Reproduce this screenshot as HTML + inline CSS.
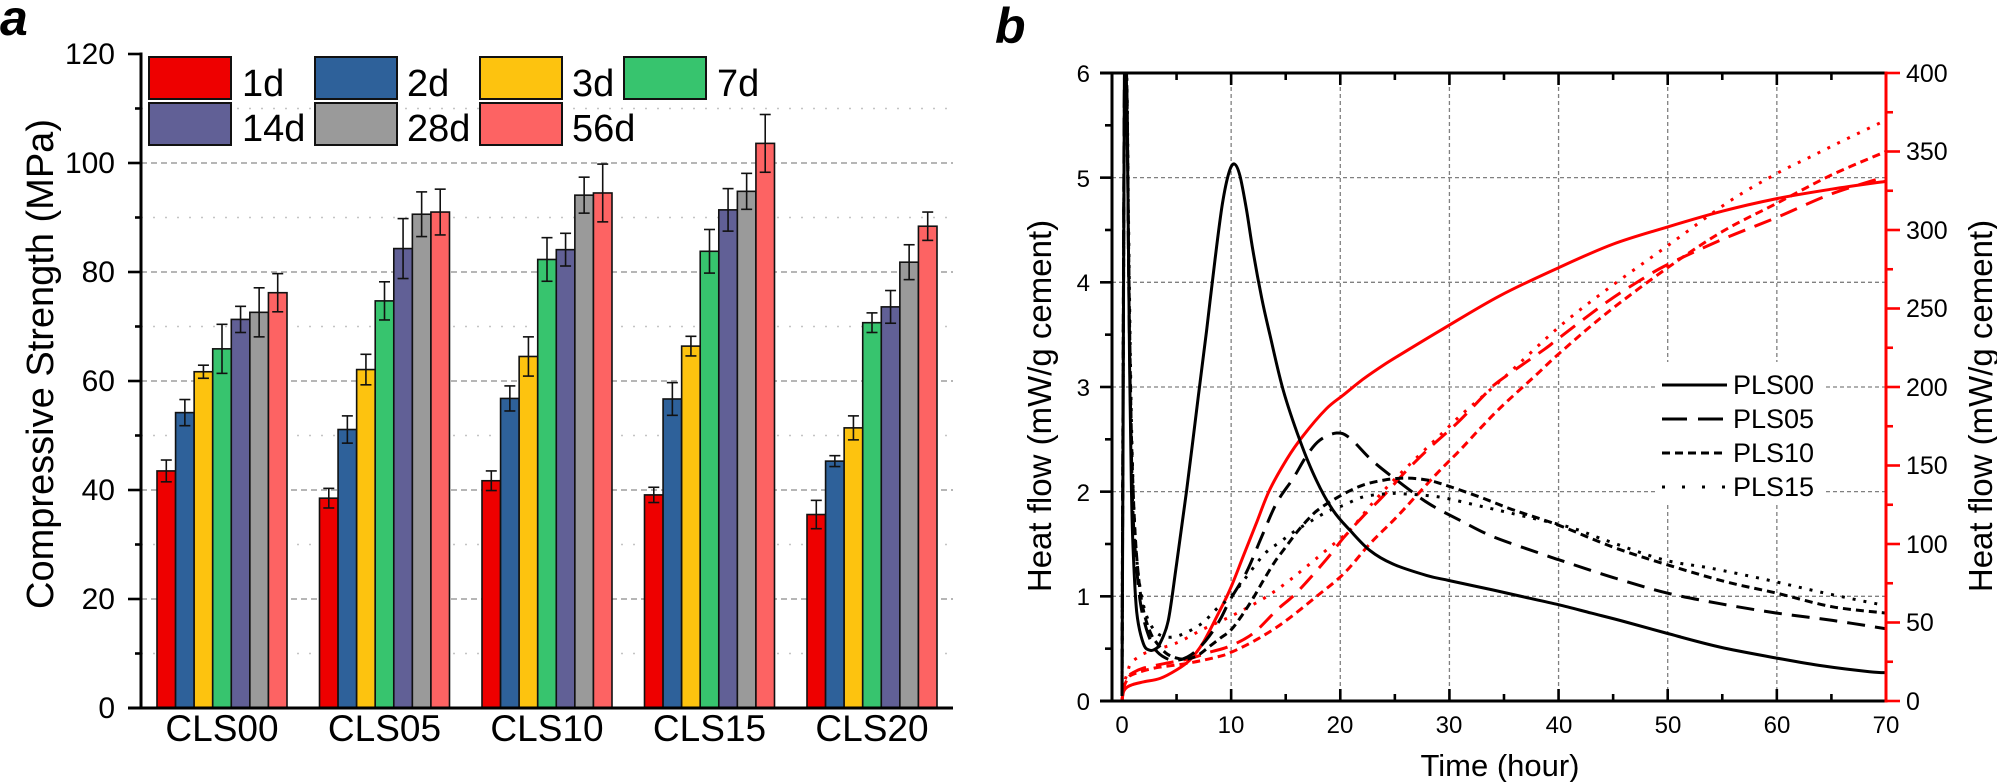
<!DOCTYPE html>
<html><head><meta charset="utf-8">
<style>
html,body{margin:0;padding:0;background:#fff;}
svg{display:block;}
text{font-family:"Liberation Sans",Arial,sans-serif;fill:#000;}
</style></head>
<body>
<svg id="s" width="1997" height="782" viewBox="0 0 1997 782" xmlns="http://www.w3.org/2000/svg">
<defs>
<clipPath id="pc"><rect x="1113" y="72" width="773" height="629"/></clipPath>
</defs>
<rect width="1997" height="782" fill="#fff"/>
<g id="lgrid"></g>
<g id="bars"></g>
<g id="laxes"></g>
<g id="lleg"></g>

<!-- Left chart text -->
<text x="0" y="35" font-size="50" font-weight="bold" font-style="italic">a</text>
<g font-size="30" text-anchor="end">
<text x="115" y="718">0</text>
<text x="115" y="609">20</text>
<text x="115" y="500">40</text>
<text x="115" y="391">60</text>
<text x="115" y="282">80</text>
<text x="115" y="173">100</text>
<text x="115" y="64">120</text>
</g>
<g font-size="37" text-anchor="middle">
<text x="222" y="741">CLS00</text>
<text x="384.5" y="741">CLS05</text>
<text x="547" y="741">CLS10</text>
<text x="709.5" y="741">CLS15</text>
<text x="872" y="741">CLS20</text>
</g>
<text transform="translate(53,364) rotate(-90)" font-size="38" text-anchor="middle">Compressive Strength (MPa)</text>
<g font-size="38">
<text x="242" y="96">1d</text>
<text x="407" y="96">2d</text>
<text x="572" y="96">3d</text>
<text x="717" y="96">7d</text>
<text x="242" y="141">14d</text>
<text x="407" y="141">28d</text>
<text x="572" y="141">56d</text>
</g>

<!-- Right chart -->
<g id="rgrid"></g>
<rect x="1658" y="362" width="165" height="143" fill="#fff"/>
<g id="curves" clip-path="url(#pc)"></g>
<g id="raxes"></g>
<g id="rleg"></g>

<text x="995" y="43" font-size="50" font-weight="bold" font-style="italic">b</text>
<g font-size="24" text-anchor="end">
<text x="1090" y="710">0</text>
<text x="1090" y="605">1</text>
<text x="1090" y="501">2</text>
<text x="1090" y="396">3</text>
<text x="1090" y="291">4</text>
<text x="1090" y="187">5</text>
<text x="1090" y="82">6</text>
</g>
<g font-size="24" text-anchor="middle">
<text x="1122" y="733">0</text>
<text x="1231" y="733">10</text>
<text x="1340" y="733">20</text>
<text x="1449" y="733">30</text>
<text x="1559" y="733">40</text>
<text x="1668" y="733">50</text>
<text x="1777" y="733">60</text>
<text x="1886" y="733">70</text>
</g>
<g font-size="25" text-anchor="start" style="fill:#ff0000">
<text x="1906" y="710" fill="#ff0000">0</text>
<text x="1906" y="631" fill="#ff0000">50</text>
<text x="1906" y="553" fill="#ff0000">100</text>
<text x="1906" y="474" fill="#ff0000">150</text>
<text x="1906" y="396" fill="#ff0000">200</text>
<text x="1906" y="317" fill="#ff0000">250</text>
<text x="1906" y="239" fill="#ff0000">300</text>
<text x="1906" y="160" fill="#ff0000">350</text>
<text x="1906" y="82" fill="#ff0000">400</text>
</g>
<text transform="translate(1051,406) rotate(-90)" font-size="33" text-anchor="middle">Heat flow (mW/g cement)</text>
<text transform="translate(1992,406) rotate(-90)" font-size="33" text-anchor="middle">Heat flow (mW/g cement)</text>
<text x="1500" y="776" font-size="31" text-anchor="middle">Time (hour)</text>
<g font-size="27">
<text x="1733" y="394">PLS00</text>
<text x="1733" y="428">PLS05</text>
<text x="1733" y="462">PLS10</text>
<text x="1733" y="496">PLS15</text>
</g>
</svg>
<script>
(function(){
const NS="http://www.w3.org/2000/svg";
function el(tag,attrs,parent){const e=document.createElementNS(NS,tag);for(const k in attrs)e.setAttribute(k,attrs[k]);parent.appendChild(e);return e;}
const $=id=>document.getElementById(id);

/* ---------- LEFT CHART ---------- */
const Y=v=>708-5.45*v;
const lg=$("lgrid");
for(let v=10;v<=110;v+=10){
  const y=Y(v);
  if(v%20===0) el("line",{x1:141,x2:953,y1:y,y2:y,stroke:"#8a8a8a","stroke-width":1.3,"stroke-dasharray":"6 4"},lg);
  else el("line",{x1:141,x2:953,y1:y,y2:y,stroke:"#c4c4c4","stroke-width":1.5,"stroke-dasharray":"2 10"},lg);
}
const colors=["#ee0000","#2e619a","#fdc30f","#37c46e","#616096","#9a9a9a","#fd6363"];
const data=[
 [[43.5,54.2,61.7,65.9,71.3,72.6,76.2],[2.0,2.4,1.2,4.5,2.4,4.5,3.5]],
 [[38.5,51.1,62.1,74.7,84.3,90.6,91.0],[1.8,2.5,2.8,3.5,5.5,4.1,4.2]],
 [[41.7,56.8,64.5,82.3,84.1,94.1,94.5],[1.8,2.3,3.6,4.0,3.0,3.3,5.3]],
 [[39.1,56.7,66.4,83.8,91.4,94.8,103.6],[1.4,3.0,1.8,4.0,3.9,3.3,5.3]],
 [[35.5,45.3,51.4,70.7,73.6,81.8,88.4],[2.6,1.0,2.2,1.8,3.0,3.2,2.6]]
];
const gl=[157,319.5,482,644.5,807], bw=130/7;
const bg=$("bars");
data.forEach((g,gi)=>{
  g[0].forEach((v,i)=>{
    const x=gl[gi]+i*bw, y=Y(v);
    el("rect",{x:x,y:y,width:bw,height:708-y,fill:colors[i],stroke:"#111","stroke-width":1.6},bg);
  });
  g[0].forEach((v,i)=>{
    const cx=gl[gi]+i*bw+bw/2, e=g[1][i];
    const y1=Y(v+e), y2=Y(v-e);
    el("line",{x1:cx,x2:cx,y1:y1,y2:y2,stroke:"#111","stroke-width":1.6},bg);
    el("line",{x1:cx-5.5,x2:cx+5.5,y1:y1,y2:y1,stroke:"#111","stroke-width":1.6},bg);
    el("line",{x1:cx-5.5,x2:cx+5.5,y1:y2,y2:y2,stroke:"#111","stroke-width":1.6},bg);
  });
});
const la=$("laxes");
el("line",{x1:141,x2:141,y1:52.5,y2:709.5,stroke:"#000","stroke-width":3},la);
el("line",{x1:128,x2:953,y1:708,y2:708,stroke:"#000","stroke-width":3},la);
for(let v=0;v<=120;v+=10){
  const y=Y(v);
  el("line",{x1:(v%20===0?128:135),x2:141,y1:y,y2:y,stroke:"#000","stroke-width":2.6},la);
}
const ll=$("lleg");
const lx=[149,315,480,624];
[[0,0],[1,1],[2,2],[3,3]].forEach(([c,k])=>el("rect",{x:lx[c],y:57,width:82,height:42,fill:colors[k],stroke:"#111","stroke-width":2},ll));
[[0,4],[1,5],[2,6]].forEach(([c,k])=>el("rect",{x:lx[c],y:103,width:82,height:42,fill:colors[k],stroke:"#111","stroke-width":2},ll));

/* ---------- RIGHT CHART ---------- */
const X=t=>1122+10.914*t, V=v=>701-104.67*v, R=r=>701-1.57*r;
const rg=$("rgrid");
for(let t=10;t<=60;t+=10){
  const x=X(t);
  if(t>=50){
    el("line",{x1:x,x2:x,y1:73,y2:362,stroke:"#808080","stroke-width":1.3,"stroke-dasharray":"4 3"},rg);
    el("line",{x1:x,x2:x,y1:505,y2:701,stroke:"#808080","stroke-width":1.3,"stroke-dasharray":"4 3"},rg);
  } else el("line",{x1:x,x2:x,y1:73,y2:701,stroke:"#808080","stroke-width":1.3,"stroke-dasharray":"4 3"},rg);
}
for(let v=1;v<=5;v++){
  const y=V(v);
  el("line",{x1:1112,x2:1886,y1:y,y2:y,stroke:"#808080","stroke-width":1.3,"stroke-dasharray":"4 3"},rg);
}
function path(pts){
  let d="M"+pts[0][0].toFixed(1)+","+pts[0][1].toFixed(1);
  for(let i=0;i<pts.length-1;i++){
    const p0=pts[i-1]||pts[i],p1=pts[i],p2=pts[i+1],p3=pts[i+2]||p2;
    const c1=[p1[0]+(p2[0]-p0[0])/6,p1[1]+(p2[1]-p0[1])/6];
    const c2=[p2[0]-(p3[0]-p1[0])/6,p2[1]-(p3[1]-p1[1])/6];
    d+="C"+c1[0].toFixed(1)+","+c1[1].toFixed(1)+" "+c2[0].toFixed(1)+","+c2[1].toFixed(1)+" "+p2[0].toFixed(1)+","+p2[1].toFixed(1);
  }
  return d;
}
const DASH=["", "18 10", "8 5", "3 8"];
const black=[
 [[0,0.05],[0.1,2.6],[0.22,5.95],[0.4,5.95],[0.55,4.8],[0.7,3.2],[0.85,2.1],[1.0,1.5],[1.35,0.85],[1.95,0.55],[2.56,0.485],[3.1,0.5],[3.48,0.55],[4.24,0.77],[5.0,1.31],[5.92,2.01],[6.99,2.91],[7.75,3.54],[8.5,4.2],[9.2,4.75],[9.8,5.05],[10.3,5.13],[10.8,5.02],[11.4,4.7],[12.0,4.3],[12.8,3.85],[13.55,3.5],[14.77,2.97],[16.3,2.49],[17.8,2.11],[19.35,1.82],[20.9,1.63],[22.7,1.44],[24.8,1.31],[27.9,1.2],[30,1.15],[34,1.06],[37,0.99],[40,0.92],[43,0.84],[46,0.76],[50,0.645],[54.8,0.515],[60,0.41],[64.2,0.335],[68.5,0.28],[70,0.27]],
 [[0,0.05],[0.1,3],[0.22,5.9],[0.45,5.8],[0.6,4.2],[0.75,3.0],[0.9,2.2],[1.1,1.6],[1.6,1.0],[2.2,0.7],[3,0.5],[4,0.41],[5,0.39],[6,0.42],[7,0.5],[8,0.62],[9,0.78],[9.9,0.965],[11.4,1.23],[12.8,1.57],[14.16,1.89],[15.7,2.13],[16.9,2.34],[18.1,2.49],[19.66,2.56],[20.9,2.51],[23,2.29],[25.8,2.06],[28.2,1.88],[30.9,1.73],[34,1.57],[38.6,1.4],[40,1.35],[45.3,1.17],[50,1.03],[54.8,0.93],[60,0.84],[65.1,0.77],[70,0.69]],
 [[0,0.05],[0.1,3],[0.25,5.95],[0.45,5.85],[0.6,4.4],[0.75,3.2],[0.9,2.4],[1.2,1.6],[1.6,1.1],[2,0.85],[2.5,0.68],[3,0.58],[4,0.46],[5,0.41],[6,0.40],[7,0.44],[8,0.52],[9,0.6],[10,0.68],[11,0.82],[12,0.98],[13,1.16],[14,1.33],[15,1.47],[16,1.61],[17,1.73],[18,1.83],[20,1.96],[22,2.06],[24,2.11],[26,2.13],[28,2.11],[30,2.05],[33,1.94],[36,1.82],[40,1.68],[45,1.47],[50,1.30],[55.3,1.14],[60,1.03],[65.1,0.90],[70,0.84]],
 [[0,0.05],[0.1,3],[0.25,5.95],[0.45,5.9],[0.6,4.6],[0.75,3.4],[0.9,2.5],[1.1,1.8],[1.4,1.3],[1.8,1.0],[2.3,0.8],[3,0.67],[3.7,0.62],[4.5,0.61],[5.6,0.64],[7.3,0.74],[8.67,0.88],[10,1.0],[11.5,1.2],[13.1,1.41],[14.5,1.52],[15.8,1.62],[17.5,1.73],[19,1.82],[20.3,1.87],[22.1,1.95],[24.2,1.98],[25.7,1.98],[29,1.95],[32.5,1.87],[35.8,1.79],[41,1.66],[44.2,1.54],[49.6,1.35],[53.9,1.27],[59,1.16],[64,1.04],[69.1,0.93],[70,0.92]]
];
const red=[
 [[0,0],[0.15,6],[0.5,9],[1,10.5],[2,12.2],[3.5,14.4],[5,19.8],[6.2,26],[7.4,36.8],[8.7,54],[9.9,71],[11.1,92],[12.3,113],[13.5,134],[15.1,154],[16.6,169],[18.7,186],[20.3,195],[22.1,205],[24.2,215],[26.3,224],[29.4,237],[34.6,258],[40,276],[45,291],[50,302],[55,312],[60,320],[65,326],[70,331]],
 [[0,0],[0.15,8],[0.5,15],[1,18],[2,21],[4,24],[6.2,27],[8,31],[9.9,35],[12,43],[14.2,58],[16,69],[18.7,90],[20.3,104],[22,117],[24,131],[26.1,147],[28.3,162],[30.7,177],[33.5,197],[34.6,204],[38.7,224],[40,231],[44.4,254],[47.5,268],[50,278],[55,294],[60,308],[65,323],[70,334]],
 [[0,0],[0.15,8],[0.5,14],[1,17],[3,21],[6,24],[8.7,28],[10,31],[12.3,39],[14.8,50],[17.8,66.5],[20.3,81],[22.7,100],[25,116],[27,131],[29,146],[31,160],[33,175],[35,189],[38,208],[40,221],[44.4,247],[50,276],[55,299],[60,317],[65,335],[70,350]],
 [[0,0],[0.15,10],[0.5,18],[0.8,24],[1.5,28],[2.3,31],[5,37],[7.5,46],[10,54],[12.9,65],[15,75],[16.8,85],[18.7,96],[20.9,109],[22.7,124],[24.8,140],[27,155],[29.4,171],[31.2,183],[35,206],[40,238],[44.4,262],[50,290],[55.6,318],[60,336],[62.9,346],[66.1,357],[70,370]]
];
const cg=$("curves");
red.forEach((s,i)=>{
  const a={d:path(s.map(p=>[X(p[0]),R(p[1])])),fill:"none",stroke:"#ff0000","stroke-width":3,"stroke-linejoin":"round"};
  if(DASH[i]) a["stroke-dasharray"]=DASH[i];
  el("path",a,cg);
});
black.forEach((s,i)=>{
  const a={d:path(s.map(p=>[X(p[0]),V(p[1])])),fill:"none",stroke:"#000","stroke-width":3,"stroke-linejoin":"round"};
  if(DASH[i]) a["stroke-dasharray"]=DASH[i];
  el("path",a,cg);
});
const ra=$("raxes");
el("line",{x1:1100,x2:1886,y1:701,y2:701,stroke:"#000","stroke-width":3},ra);
el("line",{x1:1100,x2:1886,y1:73,y2:73,stroke:"#000","stroke-width":3},ra);
el("line",{x1:1112,x2:1112,y1:71.5,y2:702.5,stroke:"#000","stroke-width":3},ra);
for(let v=0;v<=6;v+=0.5){
  const y=V(v);
  el("line",{x1:(v%1===0?1100:1105),x2:1112,y1:y,y2:y,stroke:"#000","stroke-width":2.6},ra);
}
for(let t=5;t<70;t+=5){
  const x=X(t), L=(t%10===0?12:7);
  el("line",{x1:x,x2:x,y1:701,y2:701-L,stroke:"#000","stroke-width":2.6},ra);
  el("line",{x1:x,x2:x,y1:73,y2:73+L,stroke:"#000","stroke-width":2.6},ra);
}
el("line",{x1:1886,x2:1886,y1:71.5,y2:702.5,stroke:"#ff0000","stroke-width":3},ra);
for(let r=0;r<=400;r+=25){
  const y=R(r);
  el("line",{x1:1886,x2:(r%50===0?1900:1893),y1:y,y2:y,stroke:"#ff0000","stroke-width":2.6},ra);
}
const rl=$("rleg");
[385,419,453,487].forEach((y,i)=>{
  const a={x1:1662,x2:1727,y1:y,y2:y,stroke:"#000","stroke-width":3};
  if(i===1) a["stroke-dasharray"]="25 11";
  if(i===2) a["stroke-dasharray"]="8 5";
  if(i===3) a["stroke-dasharray"]="3 17";
  el("line",a,rl);
});
})();
</script>
</body></html>
